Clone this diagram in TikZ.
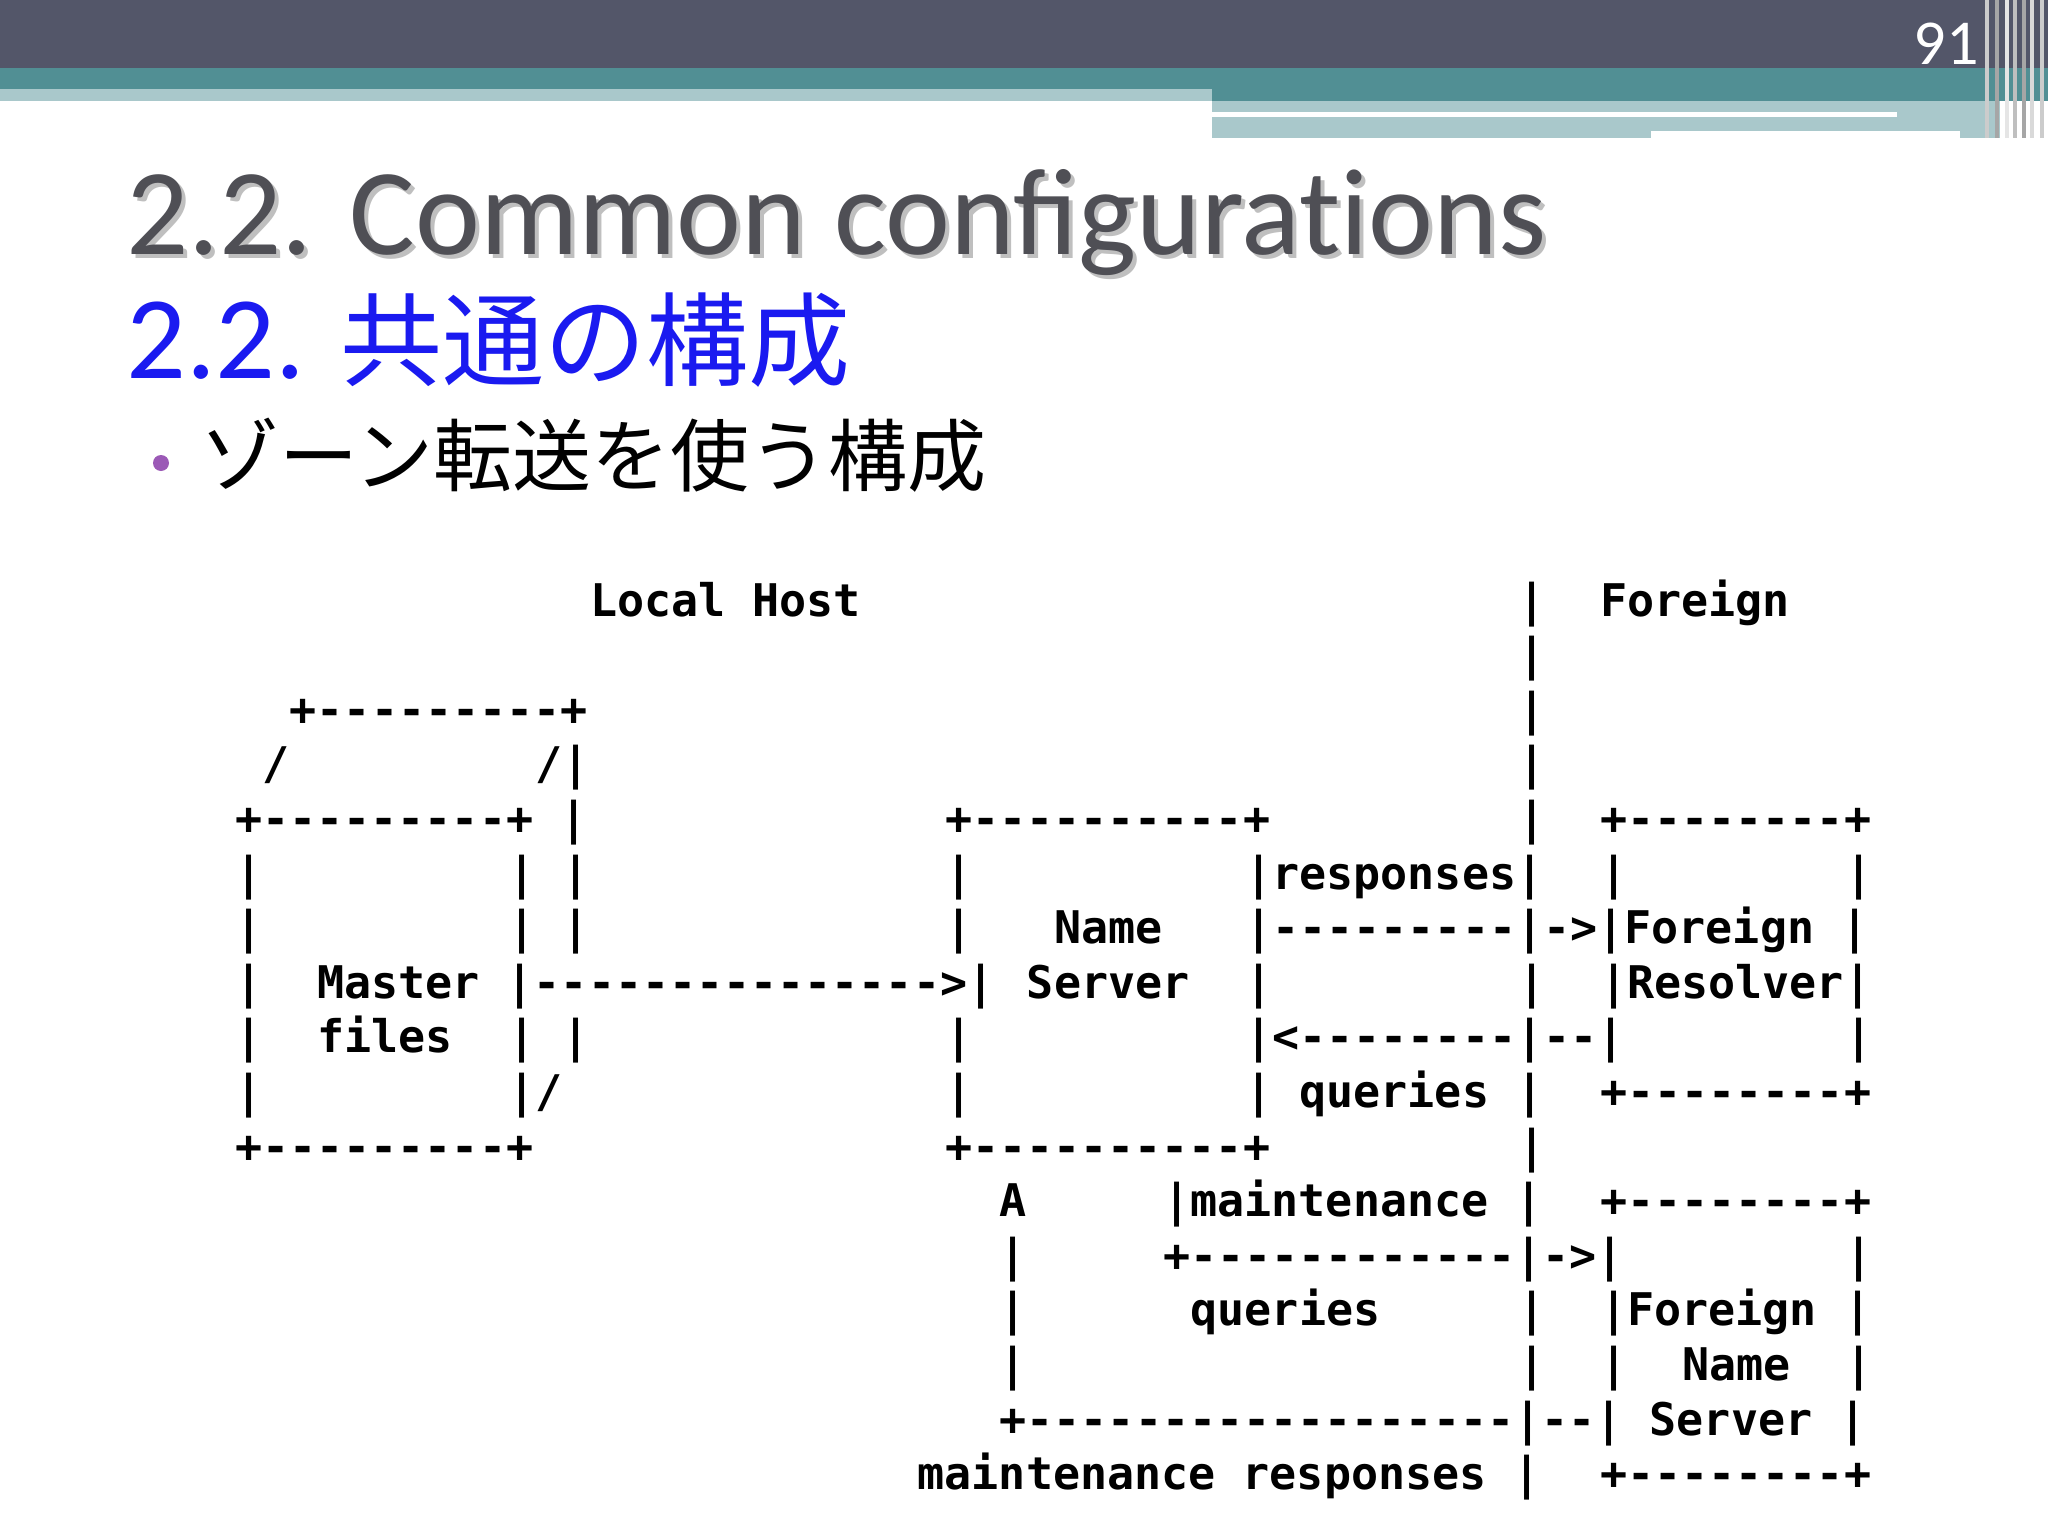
\documentclass[tikz,border=0pt]{standalone}
\usepackage{fontspec}
\setmainfont{Carlito}
\newfontfamily\cjk{Noto Sans CJK JP}
\newfontfamily\asc{DejaVu Sans Mono Bold}
\definecolor{darkbar}{HTML}{535669}
\definecolor{tealbar}{HTML}{518F94}
\definecolor{lightbar}{HTML}{A9C8CB}
\definecolor{titlegray}{HTML}{4F4F55}
\definecolor{titleblue}{HTML}{1A1AF0}
\definecolor{bulletpurple}{HTML}{9B59B6}
\begin{document}
\begin{tikzpicture}[x=1pt,y=-1pt,
  asc/.style={anchor=base west,inner sep=0pt,font=\asc\fontsize{45}{45}\selectfont}]
\useasboundingbox (0,0) rectangle (2048,1536);
\fill[white] (0,0) rectangle (2048,1536);
% header
\fill[darkbar] (0,0) rectangle (2048,68);
\fill[tealbar] (0,68) rectangle (2048,101);
\fill[lightbar] (0,89) rectangle (1212,101);
\fill[lightbar] (1212,101) rectangle (2000,138);
\fill[white] (1212,112) rectangle (1897,117);
\fill[white] (1651,131) rectangle (1960,138);
\foreach \xx/\cc in {1985/gray!40,1995/gray!70,2005/white!80!gray,2013/gray!50,2022/gray!70,2030/white!70!gray,2040/gray!40}
  \fill[\cc] (\xx,0) rectangle ++(4,138);
\node[anchor=east,text=white,font=\fontsize{64}{64}\selectfont] (pg) at (1982,44) {91};
% titles
\newcommand\ttl{2.2. Common configurat\kern0pt ions}
\node[anchor=base west,inner sep=0pt,text=black!25,font=\fontsize{123}{123}\selectfont] at (130,258) {\ttl};
\node[anchor=base west,inner sep=0pt,text=titlegray,font=\fontsize{123}{123}\selectfont] (t1) at (126,254) {\ttl};
\node[anchor=base west,inner sep=0pt,text=titleblue,font=\fontsize{118}{118}\selectfont] (t2) at (126,378) {2.2. {\cjk\fontsize{102}{102}\selectfont 共通の構成}};
\fill[bulletpurple] (161,463) circle (8);
\node[anchor=base west,inner sep=0pt,font=\cjk\fontsize{79}{79}\selectfont] (t3) at (200,485) {ゾーン転送を使う構成};
% ascii art
\def\xo{235}\def\cw{27.3}\def\yo{616}\def\lh{54.6}
\newcommand\AL[3]{\node[asc] at ({\xo+#2*\cw},{\yo+#1*\lh}) {#3};}
\AL{0}{13}{Local Host}\AL{0}{47}{|}\AL{0}{50}{Foreign}
\AL{1}{47}{|}
\AL{2}{2}{+---------+}\AL{2}{47}{|}
\AL{3}{1}{/}\AL{3}{11}{/|}\AL{3}{47}{|}
\AL{4}{0}{+---------+ |}\AL{4}{26}{+----------+}\AL{4}{47}{|}\AL{4}{50}{+--------+}
\AL{5}{0}{|}\AL{5}{10}{| |}\AL{5}{26}{|}\AL{5}{37}{|responses|}\AL{5}{50}{|}\AL{5}{59}{|}
\AL{6}{0}{|}\AL{6}{10}{| |}\AL{6}{26}{|}\AL{6}{30}{Name}\AL{6}{37}{|---------|->|Foreign |}
\AL{7}{0}{|}\AL{7}{3}{Master |--------------->|}\AL{7}{29}{Server}\AL{7}{37}{|}\AL{7}{47}{|}\AL{7}{50}{|Resolver|}
\AL{8}{0}{|}\AL{8}{3}{files}\AL{8}{10}{| |}\AL{8}{26}{|}\AL{8}{37}{|<--------|--|}\AL{8}{59}{|}
\AL{9}{0}{|}\AL{9}{10}{|/}\AL{9}{26}{|}\AL{9}{37}{| queries |}\AL{9}{50}{+--------+}
\AL{10}{0}{+---------+}\AL{10}{26}{+----------+}\AL{10}{47}{|}
\AL{11}{28}{A}\AL{11}{34}{|maintenance |}\AL{11}{50}{+--------+}
\AL{12}{28}{|}\AL{12}{34}{+------------|->|}\AL{12}{59}{|}
\AL{13}{28}{|}\AL{13}{35}{queries}\AL{13}{47}{|}\AL{13}{50}{|Foreign |}
\AL{14}{28}{|}\AL{14}{47}{|}\AL{14}{50}{|}\AL{14}{53}{Name}\AL{14}{59}{|}
\AL{15}{28}{+------------------|--| Server |}
\AL{16}{25}{maintenance responses |}\AL{16}{50}{+--------+}
\end{tikzpicture}
\end{document}
